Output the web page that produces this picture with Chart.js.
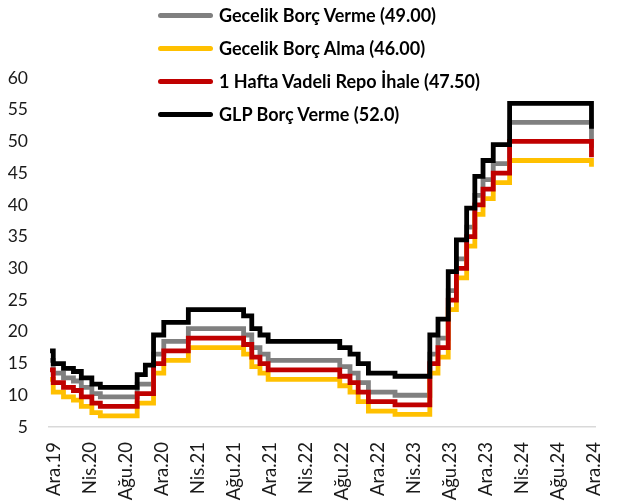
<!DOCTYPE html>
<html lang="tr">
<head>
<meta charset="utf-8">
<title>TCMB faiz koridoru</title>
<script src="https://cdn.jsdelivr.net/npm/chart.js@4.4.1/dist/chart.umd.min.js"></script>
<style>
    body { margin: 0; background: #fff; }
    #wrap { position: relative; width: 631px; height: 504px; }
    #legend { position: absolute; left: 158px; top: -1.5px; font: bold 18px Lato, sans-serif; color: #000; }
    .item { height: 33px; display: flex; align-items: center; white-space: nowrap; }
    .swatch { width: 55px; height: 5px; border-radius: 3px; margin-right: 6px; }
</style>
</head>
<body>
<div id="wrap">
    <canvas id="myChart" width="631" height="504"></canvas>
    <div id="legend"></div>
</div>
<script>
// dates where a rate changed, each value holds from that day on
const changeDates = [
    '2019-12-01', '2019-12-12', '2020-01-16', '2020-02-19', '2020-03-17', '2020-04-22',
    '2020-05-21', '2020-09-24', '2020-10-22', '2020-11-19', '2020-12-24', '2021-03-18',
    '2021-09-23', '2021-10-21', '2021-11-18', '2021-12-16', '2022-08-18', '2022-09-22',
    '2022-10-20', '2022-11-24', '2023-02-23', '2023-06-22', '2023-07-20', '2023-08-24',
    '2023-09-21', '2023-10-26', '2023-11-23', '2023-12-21', '2024-01-25', '2024-03-21',
    '2024-12-26'
];

const gecelikBorcVerme = [15.5, 13.5, 12.75, 12.25, 11.25, 10.25, 9.75, 11.75, 11.75, 16.5, 18.5, 20.5,
    19.5, 17.5, 16.5, 15.5, 14.5, 13.5, 12, 10.5, 10, 16.5, 19, 26.5, 31.5, 36.5, 41.5, 44, 46.5, 53, 49];
const gecelikBorcAlma = [12.5, 10.5, 9.75, 9.25, 8.25, 7.25, 6.75, 8.75, 8.75, 13.5, 15.5, 17.5,
    16.5, 14.5, 13.5, 12.5, 11.5, 10.5, 9, 7.5, 7, 13.5, 16, 23.5, 28.5, 33.5, 38.5, 41, 43.5, 47, 46];
const haftalikRepo = [14, 12, 11.25, 10.75, 9.75, 8.75, 8.25, 10.25, 10.25, 15, 17, 19,
    18, 16, 15, 14, 13, 12, 10.5, 9, 8.5, 15, 17.5, 25, 30, 35, 40, 42.5, 45, 50, 47.5];
const glpBorcVerme = [17, 15, 14.25, 13.75, 12.75, 11.75, 11.25, 13.25, 14.75, 19.5, 21.5, 23.5,
    22.5, 20.5, 19.5, 18.5, 17.5, 16.5, 15, 13.5, 13, 19.5, 22, 29.5, 34.5, 39.5, 44.5, 47, 49.5, 56, 52];

const seriesNames = [
    'Gecelik Borç Verme (49.00)',
    'Gecelik Borç Alma (46.00)',
    '1 Hafta Vadeli Repo İhale (47.50)',
    'GLP Borç Verme (52.0)'
];
const seriesColors = ['#808080', '#FFC000', '#C00000', '#000000'];

const xTickLabels = ['Ara.19', 'Nis.20', 'Ağu.20', 'Ara.20', 'Nis.21', 'Ağu.21', 'Ara.21', 'Nis.22',
    'Ağu.22', 'Ara.22', 'Nis.23', 'Ağu.23', 'Ara.23', 'Nis.24', 'Ağu.24', 'Ara.24'];

const START = Date.parse('2019-12-01');
const dayOf = d => (Date.parse(d) - START) / 86400000;   // days since start
const firstTickDay = 12.6;      // labels sit every ~4 months
const tickStepDays = 123.15;

function points(values){
    return values.map((v, i) => ({x: dayOf(changeDates[i]), y: v}));
}

// html legend laid over the plot, like the original
const legendBox = document.getElementById('legend');
seriesNames.forEach((name, i) => {
    const row = document.createElement('div');
    row.className = 'item';
    row.innerHTML = '<span class="swatch" style="background:' + seriesColors[i] + '"></span><span></span>';
    row.lastChild.textContent = name;
    legendBox.appendChild(row);
});

const allSeries = [gecelikBorcVerme, gecelikBorcAlma, haftalikRepo, glpBorcVerme];

const ctx = document.getElementById('myChart');
new Chart(ctx, {
    type: 'line',
    data: {
        datasets: allSeries.map((vals, i) => ({
            label: seriesNames[i],
            data: points(vals),
            borderColor: seriesColors[i],
            backgroundColor: seriesColors[i],
            borderWidth: 4.8,
            stepped: true,
            pointRadius: 0,
            fill: false,
            order: 4 - i            // later series drawn on top
        }))
    },
    options: {
        responsive: false,
        animation: false,
        layout: {
            autoPadding: false,
            padding: {left: 0, right: 6, top: 78, bottom: 0}
        },
        scales: {
            x: {
                type: 'linear',
                min: -3.6,
                max: 1866.4,
                afterBuildTicks: axis => {
                    axis.ticks = xTickLabels.map((t, k) => ({value: firstTickDay + k * tickStepDays}));
                },
                afterFit: s => { s.height = 77; },
                grid: {display: false, drawTicks: false},
                border: {display: true, color: '#d9d9d9', width: 1.5},
                ticks: {
                    autoSkip: false,
                    minRotation: 90,
                    maxRotation: 90,
                    padding: 15,
                    color: '#1a1a1a',
                    font: {family: 'Lato', size: 18.5},
                    callback: (val, index) => xTickLabels[index]
                }
            },
            y: {
                min: 5,
                max: 60,
                afterFit: s => { s.width = 49; },
                grid: {display: false, drawTicks: false},
                border: {display: false},
                ticks: {
                    stepSize: 5,
                    padding: 21,
                    color: '#1a1a1a',
                    font: {family: 'Lato', size: 17.5}
                }
            }
        },
        plugins: {
            legend: {display: false},
            tooltip: {enabled: false}
        }
    }
});
</script>
</body>
</html>
